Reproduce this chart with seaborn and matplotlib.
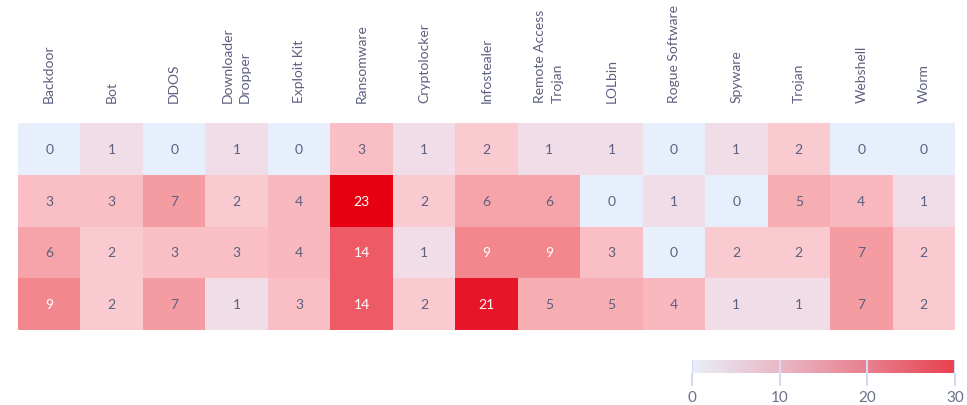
import numpy as np
import pandas as pd
import matplotlib
matplotlib.use("Agg")
import matplotlib.pyplot as plt
import seaborn as sns
from matplotlib.colors import LinearSegmentedColormap, Normalize
from matplotlib.cm import ScalarMappable

categories = ["Backdoor", "Bot", "DDOS", "Downloader\nDropper", "Exploit Kit",
              "Ransomware", "Cryptolocker", "Infostealer", "Remote Access\nTrojan",
              "LOLbin", "Rogue Software", "Spyware", "Trojan", "Webshell", "Worm"]
row1 = [0, 1, 0, 1, 0, 3, 1, 2, 1, 1, 0, 1, 2, 0, 0]
row2 = [3, 3, 7, 2, 4, 23, 2, 6, 6, 0, 1, 0, 5, 4, 1]
row3 = [6, 2, 3, 3, 4, 14, 1, 9, 9, 3, 0, 2, 2, 7, 2]
row4 = [9, 2, 7, 1, 3, 14, 2, 21, 5, 5, 4, 1, 1, 7, 2]
rows = ["r1", "r2", "r3", "r4"]
cbar_ticks = [0, 10, 20, 30]

df = pd.DataFrame([row1, row2, row3, row4], index=rows, columns=categories)

sns.set_theme(style="white")
plt.rcParams['font.family'] = ['Lato', 'DejaVu Sans']

# cell colour scale (non-linear, as seen in the reference)
vmax = 23
nodes = [(0, "#e8effc"), (1, "#f0dde8"), (2, "#f9cad0"), (3, "#f9bfc4"),
         (4, "#f9b8bd"), (5, "#f7aeb3"), (6, "#f6a4aa"), (7, "#f49ca1"),
         (9, "#f3878e"), (14, "#ef5a67"), (21, "#e81528"), (23, "#e60012")]
cell_cmap = LinearSegmentedColormap.from_list(
    "cells", [(v / vmax, c) for v, c in nodes])

fig = plt.figure(figsize=(9.67, 4.06), dpi=100)
ax = fig.add_axes([18 / 967, 1 - 331 / 406, 937 / 967, 207 / 406])

annot_kws = {"fontsize": 10}
sns.heatmap(df, ax=ax, cmap=cell_cmap, vmin=0, vmax=vmax, cbar=False,
            annot=True, fmt="d", annot_kws=annot_kws, linewidths=0)

for t, v in zip(ax.texts, np.array(df.values).ravel()):
    t.set_color("white" if v >= 9 else "#5c6080")

ax.xaxis.tick_top()
ax.set_xticklabels(categories, rotation=90, fontsize=10, color="#5c6080",
                   va="bottom", ha="center", multialignment="left",
                   linespacing=1.5)
ax.tick_params(axis="x", length=0, pad=15)
ax.set_yticks([])
ax.set_xlabel("")
ax.set_ylabel("")

# colour bar
cax = fig.add_axes([692 / 967, 1 - 374 / 406, 263 / 967, 13 / 406])
bar_cmap = LinearSegmentedColormap.from_list(
    "bar", ["#e8eef8", "#e8b8c5", "#e87f8e", "#e8404f"])
cb = fig.colorbar(ScalarMappable(norm=Normalize(0, 30), cmap=bar_cmap),
                  cax=cax, orientation="horizontal")
cb.outline.set_visible(False)
cb.set_ticks(cbar_ticks)
cb.ax.tick_params(length=9, width=1.5, color="#d5daf0", labelsize=11,
                  labelcolor="#6b6f8a", pad=3)
for v in cbar_ticks:
    cax.axvline(v, color="#d5daf0", lw=1.5)

fig.savefig("out.png", dpi=100, facecolor="white")
